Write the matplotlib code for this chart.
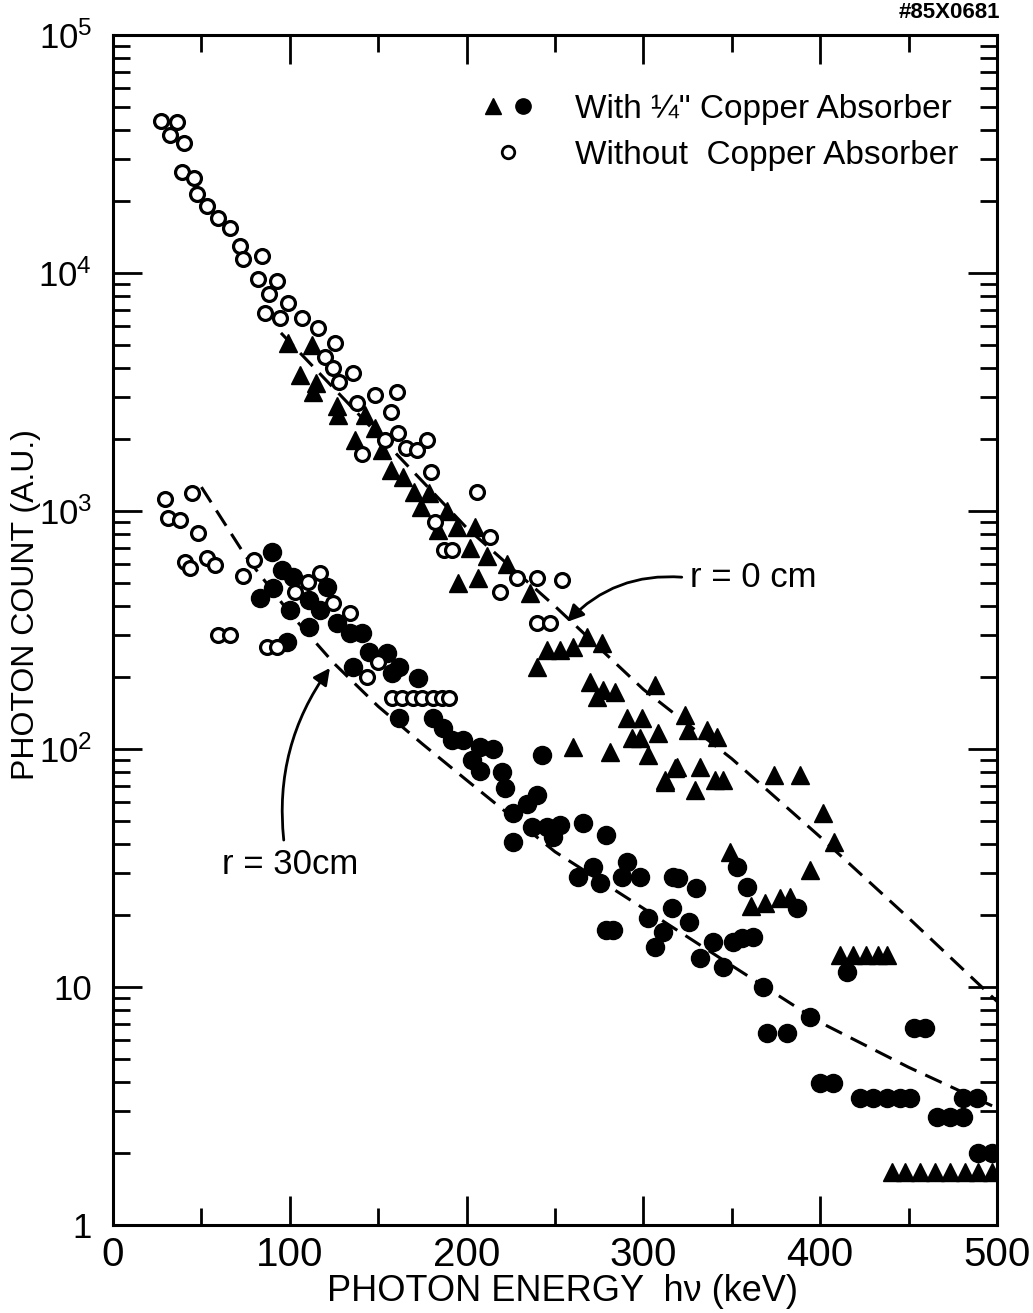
import numpy as np
import matplotlib
matplotlib.use('Agg')
import matplotlib.pyplot as plt
from matplotlib.ticker import FixedLocator, LogLocator, NullFormatter, FixedFormatter
from matplotlib.legend_handler import HandlerTuple
from matplotlib.lines import Line2D

plt.rcParams['font.family'] = ['Liberation Sans', 'DejaVu Sans']
plt.rcParams['mathtext.fontset'] = 'custom'
plt.rcParams['mathtext.rm'] = 'Liberation Sans'
plt.rcParams['lines.scale_dashes'] = False

# r = 0 cm, without copper absorber (open circles)
r0_open_e = [27, 36, 32, 40, 39, 46, 47.5, 53, 59.5, 66, 72, 73.5, 84, 82, 93, 88, 86, 99, 94.5,
             107, 116, 125.5, 120, 124.5, 136, 128, 148, 160.6, 157, 138, 161, 154, 177.6, 166,
             172, 141, 180, 206, 182, 187, 192, 213, 228.5, 240, 219, 254, 240, 247]
r0_open_n = [43600, 43000, 38000, 35200, 26500, 25000, 21500, 19200, 17100, 15400, 13000, 11400,
             11800, 9400, 9250, 8200, 6800, 7450, 6450, 6450, 5900, 5100, 4440, 3990, 3800, 3470,
             3070, 3160, 2600, 2830, 2130, 1990, 1990, 1840, 1800, 1740, 1460, 1200, 895, 686, 686,
             780, 525, 525, 458, 515, 340, 340]

# r = 0 cm, with 1/4" copper absorber (filled triangles)
r0_cu_e = [99, 112.5, 106, 115, 113, 126.7, 127, 137, 142.5, 148, 152, 157, 164, 170, 179, 174,
           189, 184, 194.5, 205, 202, 211.5, 223, 195, 206.5, 236, 240, 245.5, 253, 260, 268,
           276.6, 270, 277, 284, 274, 290.7, 299, 293.5, 298, 308, 260, 281, 302.6, 306.6, 312,
           318, 323.5, 325, 336, 341.6, 319, 332, 312, 329, 340.5, 345, 374, 388.6, 401.6, 408,
           349, 394, 361, 368.7, 377, 383, 411, 418.6, 426, 432.7, 438,
           440.6, 448, 456.5, 465, 473.5, 482, 489, 497]
r0_cu_n = [5080, 5000, 3720, 3450, 3150, 2750, 2520, 1990, 2520, 2230, 1800, 1480, 1390, 1200, 1190,
           1040, 1000, 830, 855, 855, 700, 645, 600, 500, 525, 452, 221, 261, 261, 269, 295, 279,
           191, 177, 174, 166, 135, 135, 111, 111, 117, 102, 97, 94.4, 186, 72.6, 83.5, 139, 120,
           120, 112, 84, 84, 74, 67.5, 74, 74, 77.6, 77.6, 54, 40.6, 36.9, 31, 22, 22.5, 23.6, 24,
           13.6, 13.6, 13.6, 13.6, 13.6,
           1.67, 1.67, 1.67, 1.67, 1.67, 1.67, 1.67, 1.67]

# r = 30 cm, without copper absorber (open circles)
r30_open_e = [29.4, 44.7, 31, 38, 48, 40.7, 43.5, 53, 57.7, 80, 73.5, 59.4, 66, 87, 92.6, 103,
              110.4, 117, 124.5, 134, 143.6, 150, 157.8, 163.5, 169.7, 175, 181, 186, 190]
r30_open_n = [1120, 1190, 935, 915, 810, 611, 575, 633, 593, 622, 533, 300, 300, 268, 268, 456,
              505, 550, 410, 372, 201, 232, 164, 164, 164, 164, 164, 164, 164]

# r = 30 cm, with copper absorber (filled circles)
r30_cu_e = [90, 95.6, 83, 90.5, 102, 100, 111, 121, 117, 111, 126.7, 141, 134, 98.4, 136, 145,
            155, 158, 162, 172.5, 162, 181, 186.6, 191.7, 198, 207.6, 215, 203, 207.6, 220, 222,
            242.6, 240, 226, 234, 237, 245.5, 253, 266, 249, 226, 279, 263, 271.5, 275.5, 291,
            298, 316.7, 288, 319.6, 330, 353, 358.6, 387, 316, 302.6, 326, 311, 282.8, 279,
            306.6, 339.4, 350.7, 356, 362, 332, 345, 415, 367.6, 394, 370, 381, 453, 459,
            400, 407, 422.5, 430, 437.8, 445, 450.8, 480.8, 488.7, 466, 473.5, 480.8, 489, 497]
r30_cu_n = [673, 565, 430, 475, 528, 384, 423, 480, 384, 327, 338, 307, 307, 282, 221, 256,
            253, 209, 221, 199, 135, 135, 123, 109, 109, 102, 100, 89.6, 81, 80, 68.6,
            94, 64, 54, 59, 47, 47, 48, 49, 42.6, 40.6, 43.6, 29, 31.8, 27.4, 33.5,
            29, 29, 29, 28.7, 26, 31.8, 26.3, 21.5, 21.5, 19.5, 18.8, 17, 17.3, 17.3,
            14.7, 15.5, 15.5, 16, 16.2, 13.2, 12.1, 11.6, 10, 7.5, 6.4, 6.4, 6.7, 6.7,
            3.95, 3.95, 3.42, 3.42, 3.42, 3.42, 3.42, 3.42, 3.42, 2.84, 2.84, 2.84, 2.0, 2.0]

# hand-drawn trend curves
fit_r0_e = [95, 150, 200, 250, 300, 350, 400, 450, 500]
fit_r0_n = [5600, 2090, 850, 398, 178, 91, 42.7, 19.5, 8.7]
fit_r30_e = [50, 75, 100, 125, 150, 175, 200, 250, 300, 350, 400, 450, 500]
fit_r30_n = [1260, 646, 372, 229, 151, 105, 74, 37, 21.4, 12.3, 7.1, 4.6, 3.1]

fig = plt.figure(figsize=(10.33, 13.13), dpi=100)
ax = fig.add_axes([113 / 1033, 1 - 1225 / 1313, 884 / 1033, 1190 / 1313])
ax.set_yscale('log')
ax.set_xlim(0, 500)
ax.set_ylim(1, 1e5)

dash = (13, 7)
ax.plot(fit_r0_e, fit_r0_n, color='black', lw=2.2, dashes=dash, zorder=2)
ax.plot(fit_r30_e, fit_r30_n, color='black', lw=2.2, dashes=dash, zorder=2)

ax.plot(r0_cu_e, r0_cu_n, ls='none', marker='^', ms=13, color='black', zorder=3)
ax.plot(r30_cu_e, r30_cu_n, ls='none', marker='o', ms=13, color='black', zorder=3)
ax.plot(r0_open_e, r0_open_n, ls='none', marker='o', ms=10, mfc='white', mec='black', mew=2.3, zorder=4)
ax.plot(r30_open_e, r30_open_n, ls='none', marker='o', ms=10, mfc='white', mec='black', mew=2.3, zorder=4)

# axes frame and ticks
for sp in ax.spines.values():
    sp.set_linewidth(2.2)
ax.xaxis.set_major_locator(FixedLocator([0, 100, 200, 300, 400, 500]))
ax.xaxis.set_minor_locator(FixedLocator([50, 150, 250, 350, 450]))
ax.yaxis.set_major_locator(FixedLocator([1, 10, 100, 1e3, 1e4, 1e5]))
ax.yaxis.set_minor_locator(LogLocator(base=10, subs=np.arange(2, 10), numticks=10))
ax.yaxis.set_minor_formatter(NullFormatter())
ax.yaxis.set_major_formatter(FixedFormatter(
    ['1', '10', r'$\mathregular{10^2}$', r'$\mathregular{10^3}$', r'$\mathregular{10^4}$', r'$\mathregular{10^5}$']))
ax.tick_params(which='both', direction='in', top=True, right=True, width=2)
ax.tick_params(which='major', length=21)
ax.tick_params(which='minor', length=12)
ax.tick_params(axis='x', which='major', pad=8, labelsize=29)
ax.tick_params(axis='y', which='major', pad=15, labelsize=25)

ax.set_xlabel('PHOTON ENERGY  h\u03bd (keV)', fontsize=26)
ax.xaxis.label.set_va('center')
ax.xaxis.set_label_coords(0.508, -0.056)
ax.set_ylabel('PHOTON COUNT (A.U.)', fontsize=23)
ax.yaxis.label.set_va('center')
ax.yaxis.set_label_coords(-0.098, 0.521)

# legend
tri = Line2D([], [], ls='none', marker='^', ms=11, color='black')
dot = Line2D([], [], ls='none', marker='o', ms=11, color='black')
ring = Line2D([], [], ls='none', marker='o', ms=9, mfc='white', mec='black', mew=2)
ax.legend([(tri, dot), ring],
          ['With \u00bc" Copper Absorber', 'Without  Copper Absorber'],
          handler_map={tuple: HandlerTuple(ndivide=None, pad=0.2)},
          loc='upper right', bbox_to_anchor=(0.99, 0.976), frameon=False,
          fontsize=24, handlelength=1.6, handletextpad=1.2, labelspacing=0.45,
          markerfirst=True)

# curve annotations
arrow = dict(arrowstyle='-|>', lw=2, color='black', mutation_scale=25, shrinkA=4, shrinkB=0)
ax.annotate('r = 0 cm', xy=(256.8, 342), xytext=(326.4, 523), fontsize=25,
            ha='left', va='center',
            arrowprops=dict(arrow, relpos=(0, 0.5), connectionstyle='arc3,rad=0.25'))
ax.annotate('r = 30cm', xy=(122.7, 219), xytext=(61.7, 32.6), fontsize=25,
            ha='left', va='center',
            arrowprops=dict(arrow, relpos=(0.46, 1.0), connectionstyle='arc3,rad=-0.2'))

fig.text(0.968, 1 - 2 / 1313, '#85X0681', fontsize=16, fontweight='bold', ha='right', va='top')

fig.savefig('out.png', dpi=100)
